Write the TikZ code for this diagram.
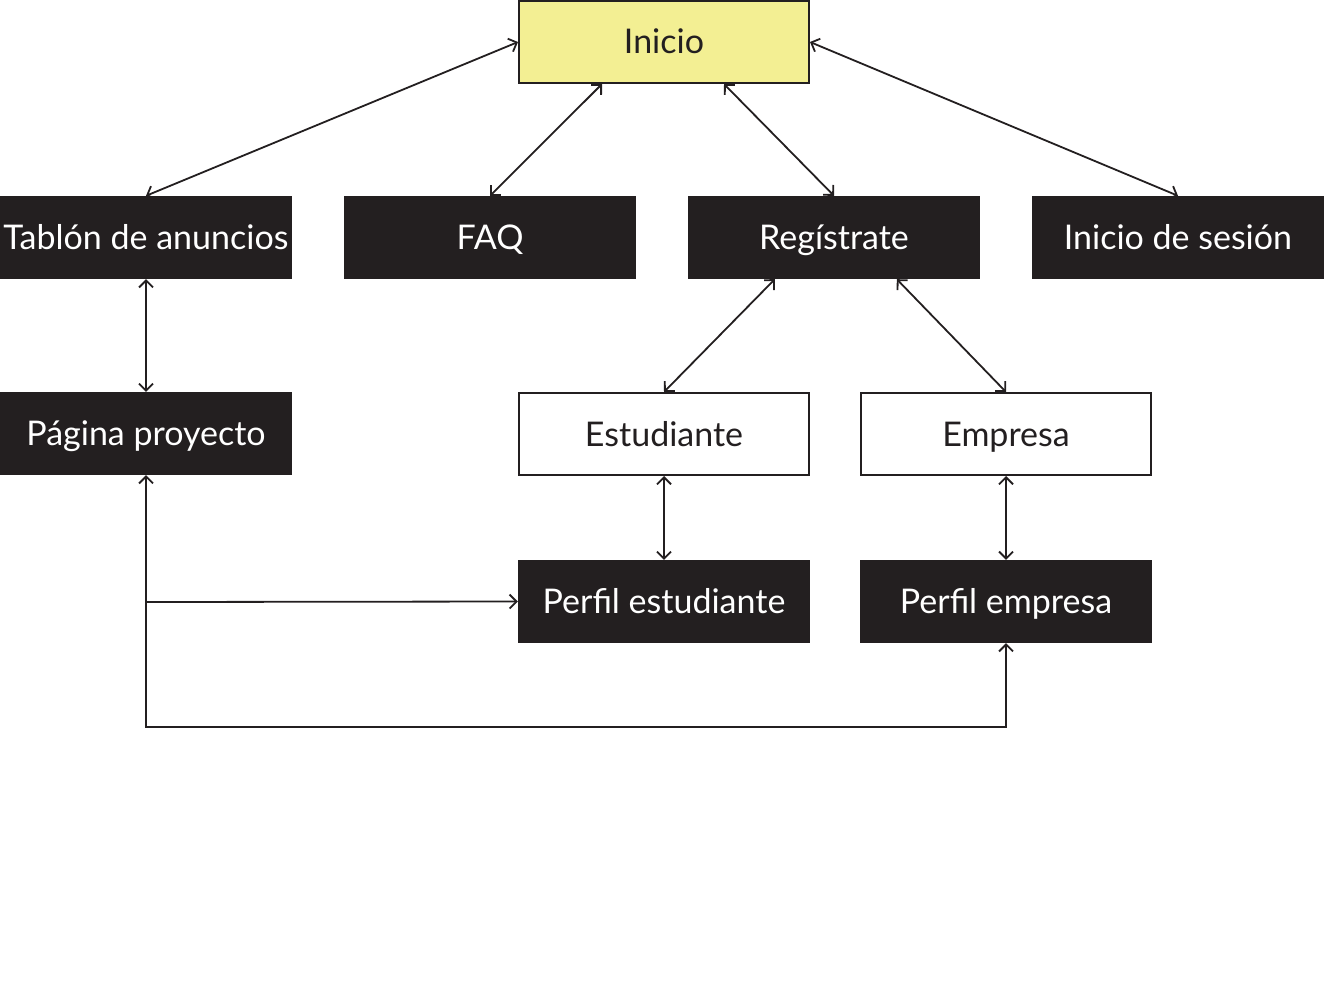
\documentclass[tikz,border=0pt]{standalone}
\usepackage{fontspec}
\setmainfont{Lato}
\usetikzlibrary{arrows.meta}
\definecolor{ink}{HTML}{231F20}
\definecolor{ylw}{HTML}{F3EF93}
\tikzset{
  base/.style={rectangle, inner sep=0pt, font=\fontsize{34}{40}\selectfont, text height=24pt, text depth=0pt},
  darkbox/.style={base, fill=ink, text=white, minimum width=292pt, minimum height=83pt},
  lightbox/.style={base, draw=ink, line width=2pt, fill=white, text=ink, minimum width=290pt, minimum height=82pt},
  startbox/.style={lightbox, fill=ylw},
  conn/.style={draw=ink, line width=1.8pt, {Straight Barb[length=7pt,width=14pt]}-{Straight Barb[length=7pt,width=14pt]}},
  oneway/.style={draw=ink, line width=1.8pt, -{Straight Barb[length=7pt,width=14pt]}},
}
\begin{document}
\begin{tikzpicture}[x=1pt,y=-1pt]
\useasboundingbox (0,0) rectangle (1324,990);
\node[startbox] (ini) at (664,42) {Inicio};
\node[darkbox] (tab) at (146,237.5) {Tablón de anuncios};
\node[darkbox] (faq) at (490,237.5) {FAQ};
\node[darkbox] (reg) at (834,237.5) {Regístrate};
\node[darkbox] (ses) at (1178,237.5) {Inicio de sesión};
\node[darkbox] (pag) at (146,433.5) {Página proyecto};
\node[lightbox] (est) at (664,434) {Estudiante};
\node[lightbox] (emp) at (1006,434) {Empresa};
\node[darkbox] (pest) at (664,601.5) {Perfil estudiante};
\node[darkbox] (pemp) at (1006,601.5) {Perfil empresa};
\coordinate (c1) at (146,727);
\coordinate (c2) at (146,602);
\draw[conn] (ini.west) -- (tab.north);
\draw[conn] ([xshift=84pt]ini.south west) -- (faq.north);
\draw[conn] ([xshift=206pt]ini.south west) -- (reg.north);
\draw[conn] (ini.east) -- (ses.north);
\draw[conn] (tab.south) -- (pag.north);
\draw[conn] ([xshift=87pt]reg.south west) -- (est.north);
\draw[conn] ([xshift=209pt]reg.south west) -- (emp.north);
\draw[conn] (est.south) -- (pest.north);
\draw[conn] (emp.south) -- (pemp.north);
\draw[conn] (pag.south) -- (c1) -| (pemp.south);
\draw[oneway] (c2) -- (pest.west);
\end{tikzpicture}
\end{document}
